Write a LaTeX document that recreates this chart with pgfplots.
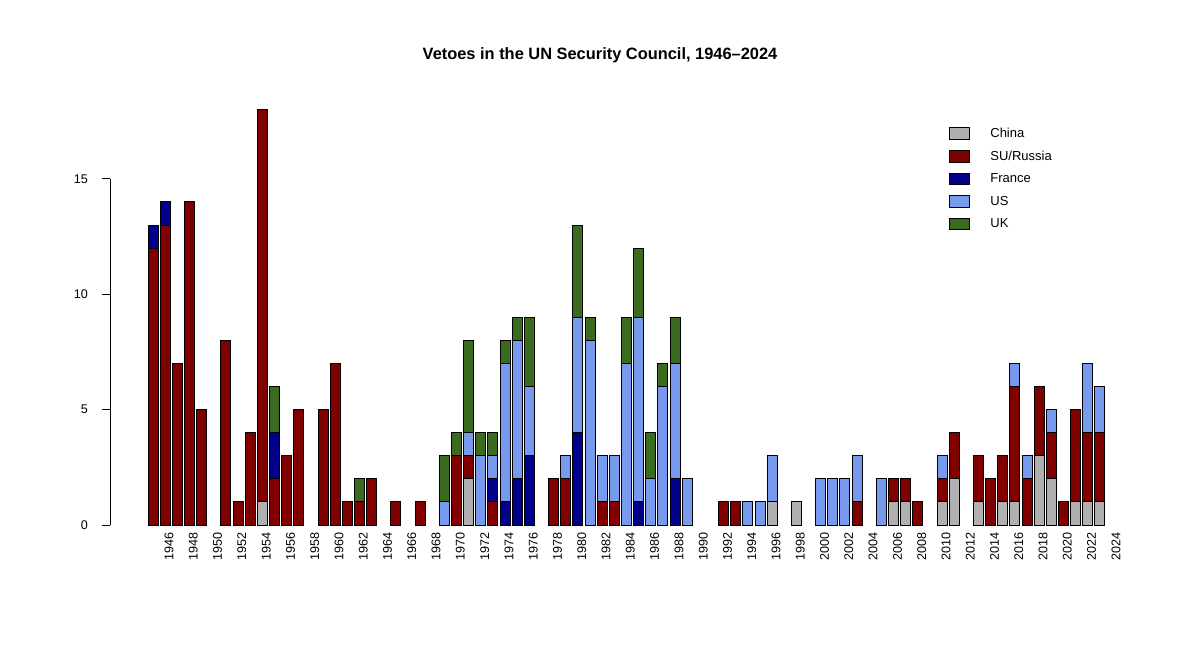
\documentclass[border=0pt]{standalone}
\usepackage{pgfplots}
\pgfplotsset{compat=1.18}
\usepackage{pgfplotstable}
\usepackage{fontspec}
\setmainfont{Liberation Sans}
\definecolor{cC}{HTML}{B0B0B0}
\definecolor{cS}{HTML}{800000}
\definecolor{cF}{HTML}{00008B}
\definecolor{cU}{HTML}{7799EE}
\definecolor{cK}{HTML}{3B6B1E}
\pgfplotstableread{
year C S F U K
1946 0 12 1 0 0
1947 0 13 1 0 0
1948 0 7 0 0 0
1949 0 14 0 0 0
1950 0 5 0 0 0
1952 0 8 0 0 0
1953 0 1 0 0 0
1954 0 4 0 0 0
1955 1 17 0 0 0
1956 0 2 2 0 2
1957 0 3 0 0 0
1958 0 5 0 0 0
1960 0 5 0 0 0
1961 0 7 0 0 0
1962 0 1 0 0 0
1963 0 1 0 0 1
1964 0 2 0 0 0
1966 0 1 0 0 0
1968 0 1 0 0 0
1970 0 0 0 1 2
1971 0 3 0 0 1
1972 2 1 0 1 4
1973 0 0 0 3 1
1974 0 1 1 1 1
1975 0 0 1 6 1
1976 0 0 2 6 1
1977 0 0 3 3 3
1979 0 2 0 0 0
1980 0 2 0 1 0
1981 0 0 4 5 4
1982 0 0 0 8 1
1983 0 1 0 2 0
1984 0 1 0 2 0
1985 0 0 0 7 2
1986 0 0 1 8 3
1987 0 0 0 2 2
1988 0 0 0 6 1
1989 0 0 2 5 2
1990 0 0 0 2 0
1993 0 1 0 0 0
1994 0 1 0 0 0
1995 0 0 0 1 0
1996 0 0 0 1 0
1997 1 0 0 2 0
1999 1 0 0 0 0
2001 0 0 0 2 0
2002 0 0 0 2 0
2003 0 0 0 2 0
2004 0 1 0 2 0
2006 0 0 0 2 0
2007 1 1 0 0 0
2008 1 1 0 0 0
2009 0 1 0 0 0
2011 1 1 0 1 0
2012 2 2 0 0 0
2014 1 2 0 0 0
2015 0 2 0 0 0
2016 1 2 0 0 0
2017 1 5 0 1 0
2018 0 2 0 1 0
2019 3 3 0 0 0
2020 2 2 0 1 0
2021 0 1 0 0 0
2022 1 4 0 0 0
2023 1 3 0 3 0
2024 1 3 0 2 0
}\data
\begin{document}
\begin{tikzpicture}
\path[use as bounding box] (0,0) rectangle (600pt,333pt);
\begin{axis}[
  at={(73.5pt,70.5pt)}, anchor=south west,
  scale only axis, width=479.5pt, height=210pt,
  xmin=1945.5, xmax=2024.5, ymin=0, ymax=18.2,
  ybar stacked, bar width=5pt,
  axis lines=left, x axis line style={draw=none}, y axis line style={draw=none},
  xtick={1946,1948,...,2024}, ytick={0,5,10,15},
  x tick label style={rotate=90, anchor=east, font=\fontsize{6.3}{7}\selectfont},
  xticklabel style={/pgf/number format/1000 sep={}},
  y tick label style={font=\fontsize{6.3}{7}\selectfont},
  /pgf/number format/assume math mode=true,
  major tick length=0pt,
  yticklabel style={xshift=-26pt},
  xticklabel style={yshift=-8pt},
  every axis plot/.append style={draw=black, line width=0.5pt},
  legend style={draw=none, at={(0.83,0.965)}, anchor=north west, font=\fontsize{6.5}{7}\selectfont, row sep=1.2pt, fill=none},
  legend image code/.code={\draw[#1] (0pt,-2.6pt) rectangle (10pt,3.2pt);},
  legend cell align=left,
  clip=false,
]
\addplot[fill=cC] table[x=year,y=C]{\data};
\addplot[fill=cS] table[x=year,y=S]{\data};
\addplot[fill=cF] table[x=year,y=F]{\data};
\addplot[fill=cU] table[x=year,y=U]{\data};
\addplot[fill=cK] table[x=year,y=K]{\data};
\legend{\hspace{8pt}China,\hspace{8pt}SU/Russia,\hspace{8pt}France,\hspace{8pt}US,\hspace{8pt}UK}
\end{axis}
\draw[line width=0.5pt] (55pt,70.5pt) -- (55pt,243.6pt);
\draw[line width=0.5pt] (55pt,70.5pt) -- (51pt,70.5pt);
\draw[line width=0.5pt] (55pt,128.2pt) -- (51pt,128.2pt);
\draw[line width=0.5pt] (55pt,185.9pt) -- (51pt,185.9pt);
\draw[line width=0.5pt] (55pt,243.6pt) -- (51pt,243.6pt);
\node[font=\bfseries\fontsize{8.2}{9}\selectfont] at (300pt,305.5pt) {Vetoes in the UN Security Council, 1946–2024};
\end{tikzpicture}
\end{document}
